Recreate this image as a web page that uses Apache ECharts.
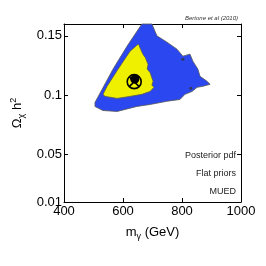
<!DOCTYPE html>
<html><head><meta charset="utf-8">
<script src="https://cdn.jsdelivr.net/npm/echarts@6/dist/echarts.min.js"></script>
<style>html,body{margin:0;padding:0;background:#fff}#c{width:266px;height:266px}</style>
</head><body><div id="c"></div>
<script>
// Outer (blue) credible region boundary: mass (GeV), Omega h^2
var blueX = [664, 698, 715, 749, 783, 803, 827, 837, 854, 861, 885, 895, 871, 851, 834, 810, 793, 749, 692, 647, 580, 532, 505, 505, 529, 566, 614];
var blueY = [0.160, 0.160, 0.150, 0.1447, 0.1388, 0.1329, 0.1346, 0.1286, 0.1219, 0.1159, 0.1117, 0.1092, 0.1075, 0.1066, 0.1032, 0.1007, 0.0964, 0.0949, 0.0922, 0.0905, 0.0863, 0.0871, 0.0905, 0.0939, 0.1049, 0.1219, 0.1414];
// Inner (yellow) credible region boundary
var yellowX = [651, 654, 664, 670, 675, 685, 682, 692, 702, 698, 705, 692, 664, 624, 580, 539, 532, 546, 583, 624];
var yellowY = [0.143, 0.1422, 0.1363, 0.1335, 0.132, 0.126, 0.122, 0.119, 0.1117, 0.1085, 0.1066, 0.1032, 0.1007, 0.099, 0.0973, 0.099, 0.1007, 0.1075, 0.1219, 0.1371];
// Small specks inside the outer region
var speckX = [803, 830];
var speckY = [0.1303, 0.1058];
// Posterior mean and best fit
var meanPoint = [638, 0.1114];
var bestFit = [640, 0.1135];
var xTicks = [400, 600, 800, 1000];
var yTicks = [0.01, 0.05, 0.1, 0.15];
var notes = ['Posterior pdf', 'Flat priors', 'MUED'];

function polySeries(xs, ys, color, z) {
  return {
    type: 'custom', z: z, silent: true, data: [0],
    renderItem: function (params, api) {
      var pts = xs.map(function (x, i) { return api.coord([x, ys[i]]); });
      return { type: 'polygon', shape: { points: pts },
        style: { fill: color, stroke: '#555', lineWidth: 0.8 } };
    }
  };
}

var chart = echarts.init(document.getElementById('c'));
var axisCommon = {
  axisLine: { show: true, lineStyle: { color: '#000', width: 1 } },
  splitLine: { show: false }
};
chart.setOption({
  animation: false,
  title: { text: 'Bertone et al (2010)', right: 23, top: 10,
    textStyle: { fontSize: 6, fontStyle: 'italic', fontWeight: 'normal', color: '#333', fontFamily: 'Liberation Sans' } },
  grid: { left: 64, right: 25, top: 24, bottom: 64, outerBoundsMode: 'none', containLabel: false },
  xAxis: [
    Object.assign({}, axisCommon, { type: 'value', min: 400, max: 1000, interval: 200,
      axisTick: { show: true, inside: true, length: 4, customValues: xTicks, lineStyle: { color: '#000' } },
      axisLabel: { customValues: xTicks, fontSize: 13, color: '#000', margin: 3, fontFamily: 'Liberation Sans',
        formatter: function (v) { return String(v); } },
      name: '{a|m}{sub|γ}{a| (GeV)}', nameLocation: 'middle', nameGap: 22,
      nameTextStyle: { rich: {
        a: { fontSize: 13, color: '#000', fontFamily: 'Liberation Sans' },
        sub: { fontSize: 9, color: '#000', fontFamily: 'Liberation Sans', padding: [8, 0, 0, 0] } } } }),
    Object.assign({}, axisCommon, { type: 'value', position: 'top', min: 400, max: 1000, interval: 200,
      axisTick: { show: true, inside: true, length: 4, customValues: xTicks, lineStyle: { color: '#000' } },
      axisLabel: { show: false } })
  ],
  yAxis: [
    Object.assign({}, axisCommon, { type: 'value', min: 0.01, max: 0.16,
      axisLabel: { customValues: yTicks, fontSize: 13, color: '#000', margin: 2, fontFamily: 'Liberation Sans',
        formatter: function (v) { return String(v); } },
      axisTick: { show: true, inside: true, length: 4, customValues: yTicks, lineStyle: { color: '#000' } },
      name: '{a|Ω}{sub|χ}{a| h}{sup|2}', nameLocation: 'middle', nameGap: 34,
      nameTextStyle: { rich: {
        a: { fontSize: 13, color: '#000', fontFamily: 'Liberation Sans' },
        sub: { fontSize: 9, color: '#000', fontFamily: 'Liberation Sans', padding: [8, 0, 0, 0] },
        sup: { fontSize: 9, color: '#000', fontFamily: 'Liberation Sans', padding: [0, 0, 8, 0] } } } }),
    Object.assign({}, axisCommon, { type: 'value', position: 'right', min: 0.01, max: 0.16,
      axisLabel: { show: false },
      axisTick: { show: true, inside: true, length: 4, customValues: yTicks, lineStyle: { color: '#000' } } })
  ],
  graphic: notes.map(function (t, i) {
    return { type: 'text', right: 30, top: 151 + i * 18,
      style: { text: t, fontSize: 9, fill: '#222', fontFamily: 'Liberation Sans', align: 'right' } };
  }),
  series: [
    polySeries(blueX, blueY, '#2b48f0', 2),
    polySeries(yellowX, yellowY, '#eef000', 3),
    { type: 'scatter', z: 4, silent: true, symbolSize: 3,
      itemStyle: { color: '#333' }, data: speckX.map(function (x, i) { return [x, speckY[i]]; }) },
    { type: 'custom', z: 5, silent: true, data: [bestFit],
      renderItem: function (params, api) {
        var p = api.coord([api.value(0), api.value(1)]);
        return { type: 'circle', shape: { cx: p[0], cy: p[1], r: 4.5 }, style: { fill: '#000' } };
      } },
    { type: 'custom', z: 6, silent: true, data: [meanPoint],
      renderItem: function (params, api) {
        var p = api.coord([api.value(0), api.value(1)]);
        var r = 7, d = r * 0.707;
        return { type: 'group', children: [
          { type: 'circle', shape: { cx: p[0], cy: p[1], r: r }, style: { fill: 'none', stroke: '#000', lineWidth: 1.6 } },
          { type: 'line', shape: { x1: p[0] - d, y1: p[1] - d, x2: p[0] + d, y2: p[1] + d }, style: { stroke: '#000', lineWidth: 1.6 } },
          { type: 'line', shape: { x1: p[0] - d, y1: p[1] + d, x2: p[0] + d, y2: p[1] - d }, style: { stroke: '#000', lineWidth: 1.6 } }
        ] };
      } }
  ]
});
</script></body></html>
